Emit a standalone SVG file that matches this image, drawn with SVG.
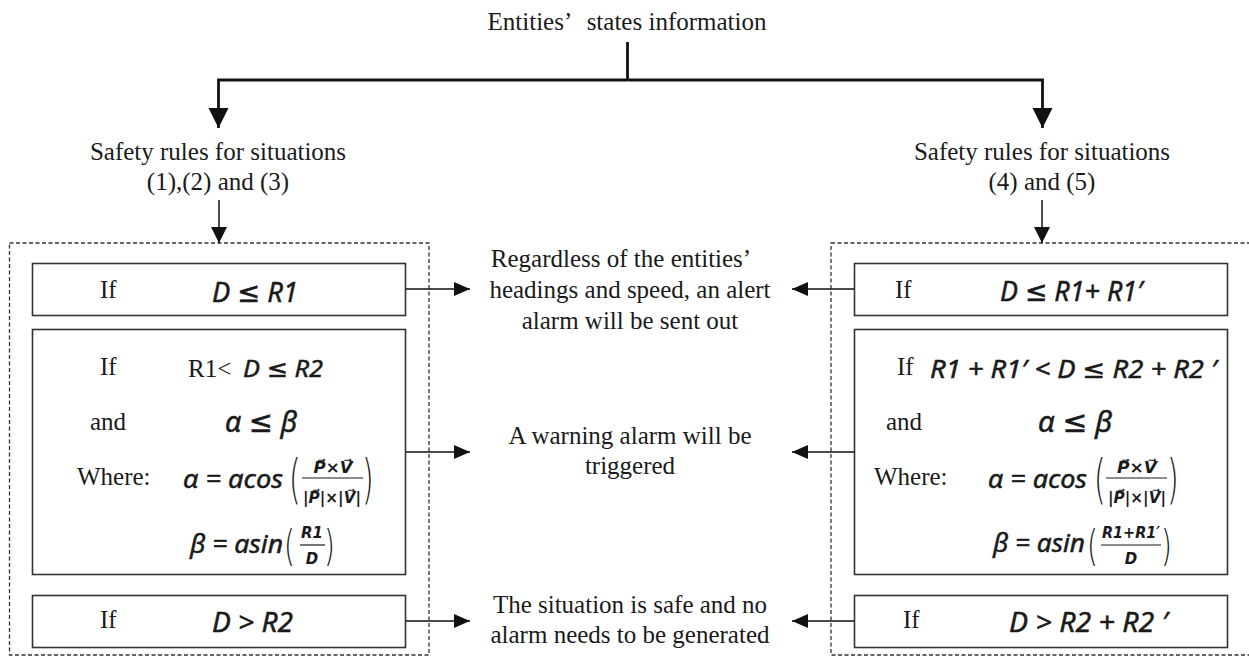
<svg xmlns="http://www.w3.org/2000/svg" width="1249" height="656" viewBox="0 0 1249 656">
  <style>
    .t { font-family: "Liberation Serif", "Times New Roman", serif; font-size: 25px; fill: #1a1a1a; }
    .c { text-anchor: middle; }
    .m { font-family: "Noto Sans", "DejaVu Sans", sans-serif; font-style: italic; fill: #1a1a1a; stroke: #1a1a1a; stroke-width: 0.5; }
    .p { font-family: "DejaVu Sans", sans-serif; font-weight: 300; fill: #1a1a1a; }
    .f { font-family: "DejaVu Sans", sans-serif; font-style: italic; font-weight: bold; font-size: 15px; fill: #1a1a1a; text-anchor: middle; }
    .box { fill: none; stroke: #333; stroke-width: 1.6; }
    .dash { fill: none; stroke: #333; stroke-width: 1.3; stroke-dasharray: 4 2.5; }
    .bar { stroke: #1a1a1a; stroke-width: 1.2; }
    .thick { fill: none; stroke: #111; stroke-width: 2.8; }
    .thin { fill: none; stroke: #111; stroke-width: 1.5; }
  </style>
  <defs>
    <marker id="bigHead" markerUnits="userSpaceOnUse" markerWidth="20" markerHeight="22" refX="20" refY="10" orient="auto">
      <path d="M0,0 L20,10 L0,20 Z" fill="#111"/>
    </marker>
    <marker id="smallHead" markerUnits="userSpaceOnUse" markerWidth="16" markerHeight="18" refX="16" refY="8" orient="auto">
      <path d="M0,0 L16,8 L0,16 Z" fill="#111"/>
    </marker>
    <marker id="sideHead" markerUnits="userSpaceOnUse" markerWidth="16" markerHeight="16" refX="16" refY="7" orient="auto">
      <path d="M0,0 L16,7 L0,14 Z" fill="#111"/>
    </marker>
  </defs>

  <rect width="1249" height="656" fill="#fff"/>

  <!-- top source -->
  <g id="source">
    <text class="t c" x="627" y="30">Entities’ <tspan dx="10">states information</tspan></text>
  </g>

  <!-- rule group headings -->
  <g id="rules-left">
    <text class="t c" x="218" y="160">Safety rules for situations</text>
    <text class="t c" x="218" y="190">(1),(2) and (3)</text>
  </g>
  <g id="rules-right">
    <text class="t c" x="1042" y="160">Safety rules for situations</text>
    <text class="t c" x="1042" y="190">(4) and (5)</text>
  </g>

  <!-- dashed containers -->
  <g id="frame-left">
    <rect class="dash" x="9.5" y="243" width="419.5" height="412"/>
  </g>
  <g id="frame-right">
    <rect class="dash" x="831" y="243" width="430" height="412"/>
  </g>

  <!-- left condition boxes -->
  <g id="left-alert">
    <rect class="box" x="32.5" y="263.5" width="373" height="52"/>
    <text class="t" x="100" y="298">If</text>
    <text class="m" x="212" y="302" font-size="28" textLength="86" lengthAdjust="spacingAndGlyphs">D ≤ R1</text>
  </g>
  <g id="left-warning">
    <rect class="box" x="32.5" y="329.5" width="373" height="245"/>
    <text class="t" x="100" y="375">If</text>
    <text class="t" x="188" y="377">R1&lt;</text>
    <text class="m" x="243" y="377" font-size="24" textLength="80" lengthAdjust="spacingAndGlyphs">D ≤ R2</text>
    <text class="t" x="90" y="430">and</text>
    <text class="m" x="225" y="432" font-size="30" textLength="72" lengthAdjust="spacingAndGlyphs">α ≤ β</text>
    <text class="t" x="77" y="485">Where:</text>
    <text class="m" x="183" y="488" font-size="26" textLength="100" lengthAdjust="spacingAndGlyphs">α = acos</text>
    <text class="p" transform="translate(289,498) scale(1,1.75)" font-size="30">(</text>
    <text class="f" x="333" y="473" textLength="39" lengthAdjust="spacingAndGlyphs">P⃗×V⃗</text>
    <line class="bar" x1="302" y1="478" x2="363" y2="478"/>
    <text class="f" x="332" y="503" textLength="58" lengthAdjust="spacingAndGlyphs">|P⃗|×|V⃗|</text>
    <text class="p" transform="translate(362,498) scale(1,1.75)" font-size="30">)</text>
    <text class="m" x="190" y="553" font-size="26" textLength="93" lengthAdjust="spacingAndGlyphs">β = asin</text>
    <text class="p" transform="translate(284,561) scale(1,1.5)" font-size="28">(</text>
    <text class="f" x="312" y="538">R1</text>
    <line class="bar" x1="300" y1="545" x2="325" y2="545"/>
    <text class="f" x="312" y="564">D</text>
    <text class="p" transform="translate(324,561) scale(1,1.5)" font-size="28">)</text>
  </g>
  <g id="left-safe">
    <rect class="box" x="32.5" y="595.5" width="373" height="52"/>
    <text class="t" x="100" y="628">If</text>
    <text class="m" x="212" y="632" font-size="28" textLength="81" lengthAdjust="spacingAndGlyphs">D &gt; R2</text>
  </g>

  <!-- right condition boxes -->
  <g id="right-alert">
    <rect class="box" x="854.5" y="263.5" width="373" height="52"/>
    <text class="t" x="895" y="298">If</text>
    <text class="m" x="1000" y="301" font-size="28" textLength="143" lengthAdjust="spacingAndGlyphs">D ≤ R1+ R1′</text>
  </g>
  <g id="right-warning">
    <rect class="box" x="854.5" y="329.5" width="373" height="245"/>
    <text class="t" x="897" y="375">If</text>
    <text class="m" x="930" y="378" font-size="25" textLength="287" lengthAdjust="spacingAndGlyphs">R1 + R1′ &lt; D ≤ R2 + R2 ′</text>
    <text class="t" x="886" y="430">and</text>
    <text class="m" x="1038" y="432" font-size="30" textLength="74" lengthAdjust="spacingAndGlyphs">α ≤ β</text>
    <text class="t" x="874" y="485">Where:</text>
    <text class="m" x="988" y="488" font-size="26" textLength="99" lengthAdjust="spacingAndGlyphs">α = acos</text>
    <text class="p" transform="translate(1094,498) scale(1,1.75)" font-size="30">(</text>
    <text class="f" x="1137" y="473" textLength="40" lengthAdjust="spacingAndGlyphs">P⃗×V⃗</text>
    <line class="bar" x1="1106" y1="478" x2="1167" y2="478"/>
    <text class="f" x="1137" y="503" textLength="58" lengthAdjust="spacingAndGlyphs">|P⃗|×|V⃗|</text>
    <text class="p" transform="translate(1167,498) scale(1,1.75)" font-size="30">)</text>
    <text class="m" x="993" y="552" font-size="26" textLength="92" lengthAdjust="spacingAndGlyphs">β = asin</text>
    <text class="p" transform="translate(1087,561) scale(1,1.5)" font-size="28">(</text>
    <text class="f" x="1131" y="538" textLength="58" lengthAdjust="spacingAndGlyphs">R1+R1′</text>
    <line class="bar" x1="1101" y1="545" x2="1161" y2="545"/>
    <text class="f" x="1131" y="564">D</text>
    <text class="p" transform="translate(1161,561) scale(1,1.5)" font-size="28">)</text>
  </g>
  <g id="right-safe">
    <rect class="box" x="854.5" y="595.5" width="373" height="52"/>
    <text class="t" x="903" y="628">If</text>
    <text class="m" x="1009" y="632" font-size="28" textLength="159" lengthAdjust="spacingAndGlyphs">D &gt; R2 + R2 ′</text>
  </g>

  <!-- outcomes -->
  <g id="outcome-alert">
    <text class="t c" x="621" y="267">Regardless of the entities’</text>
    <text class="t c" x="630" y="298">headings and speed, an alert</text>
    <text class="t c" x="630" y="329">alarm will be sent out</text>
  </g>
  <g id="outcome-warning">
    <text class="t c" x="630" y="444">A warning alarm will be</text>
    <text class="t c" x="630" y="474">triggered</text>
  </g>
  <g id="outcome-safe">
    <text class="t c" x="630" y="613">The situation is safe and no</text>
    <text class="t c" x="630" y="643">alarm needs to be generated</text>
  </g>

  <!-- connectors -->
  <g id="connectors">
    <line class="thick" x1="627.5" y1="42" x2="627.5" y2="80"/>
    <polyline class="thick" points="627.5,80 218.5,80 218.5,128" marker-end="url(#bigHead)"/>
    <polyline class="thick" points="627.5,80 1042.5,80 1042.5,128" marker-end="url(#bigHead)"/>
    <line class="thin" x1="219" y1="200" x2="219" y2="243" marker-end="url(#smallHead)"/>
    <line class="thin" x1="1042" y1="200" x2="1042" y2="243" marker-end="url(#smallHead)"/>
    <line class="thin" x1="406" y1="289" x2="470" y2="289" marker-end="url(#sideHead)"/>
    <line class="thin" x1="406" y1="452" x2="470" y2="452" marker-end="url(#sideHead)"/>
    <line class="thin" x1="406" y1="621" x2="470" y2="621" marker-end="url(#sideHead)"/>
    <line class="thin" x1="854" y1="289" x2="792" y2="289" marker-end="url(#sideHead)"/>
    <line class="thin" x1="854" y1="452" x2="792" y2="452" marker-end="url(#sideHead)"/>
    <line class="thin" x1="854" y1="621" x2="792" y2="621" marker-end="url(#sideHead)"/>
  </g>
</svg>
